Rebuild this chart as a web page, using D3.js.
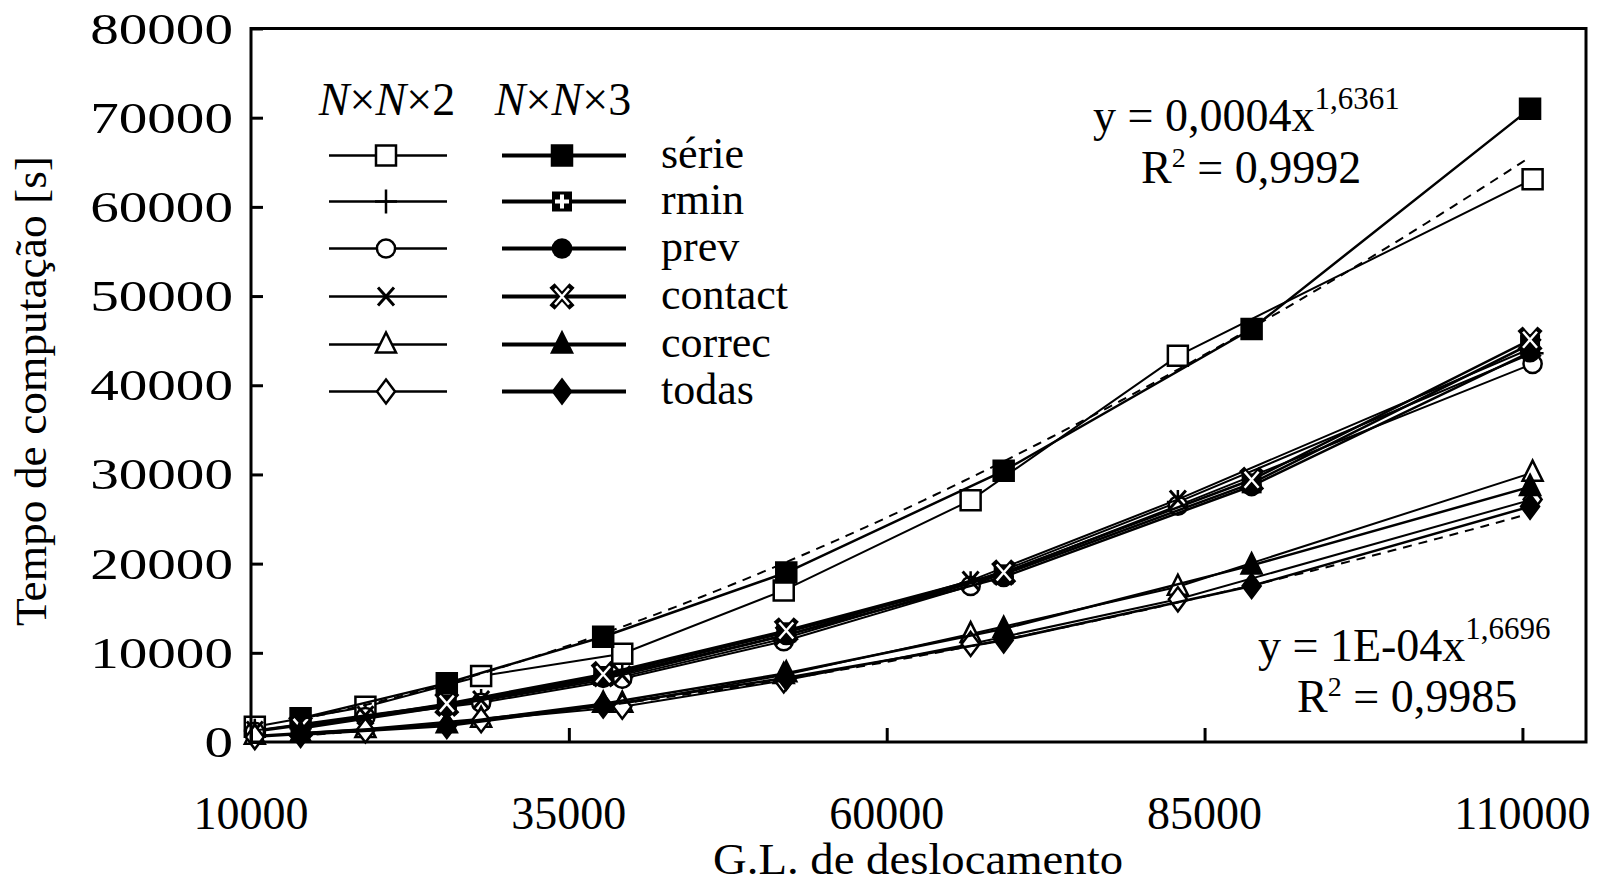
<!DOCTYPE html>
<html>
<head>
<meta charset="utf-8">
<script src="https://cdn.jsdelivr.net/npm/d3@7"></script>
<style>
  html, body { margin: 0; padding: 0; background: #fff; }
  svg text { font-family: "Liberation Serif", "Times New Roman", serif; fill: #000; }
</style>
</head>
<body>
<div id="chart"></div>
<script>
// x positions (G.L. de deslocamento) for the two mesh families
var xN2 = [10300, 19000, 28100, 39200, 51900, 66600, 82900, 110800];
var xN3 = [13900, 25400, 37700, 52100, 69200, 88700, 110600];

// computation time [s], N x N x 2
var serie2   = [1700, 3950, 7400, 9900, 17000, 27100, 43300, 63100];
var rmin2    = [1250, 2900, 4600, 7300, 11600, 17800, 26900, 43600];
var prev2    = [1150, 2800, 4400, 7100, 11300, 17500, 26500, 42400];
var contact2 = [1300, 3000, 4700, 7500, 11900, 18100, 27200, 44200];
var correc2  = [700, 1450, 2600, 4300, 7500, 12100, 17400, 30200];
var todas2   = [550, 1300, 2450, 3950, 6900, 11000, 16000, 27200];

// computation time [s], N x N x 3
var serie3   = [2650, 6600, 11800, 19000, 30400, 46300, 71000];
var rmin3    = [1600, 4200, 7400, 12300, 18800, 29000, 44600];
var prev3    = [1500, 4000, 7200, 12000, 18500, 28700, 43700];
var contact3 = [1700, 4300, 7600, 12500, 19000, 29400, 45100];
var correc3  = [950, 2000, 4300, 7700, 12700, 19800, 28600];
var todas3   = [800, 1800, 4100, 7200, 11400, 17500, 26400];

var seriesNames = ["série", "rmin", "prev", "contact", "correc", "todas"];
var yTicks = [0, 10000, 20000, 30000, 40000, 50000, 60000, 70000, 80000];
var xTicks = [10000, 35000, 60000, 85000, 110000];

var W = 1604, H = 883;
var svg = d3.select("#chart").append("svg")
  .attr("width", W).attr("height", H);

var x = d3.scaleLinear().domain([10000, 115000]).range([251, 1586]);
var y = d3.scaleLinear().domain([0, 80000]).range([742, 28.5]);

// marker shapes
function markerPath(kind) {
  if (kind == "square") return "M-10,-10H10V10H-10Z";
  if (kind == "circle") return d3.symbol(d3.symbolCircle, 260)();
  if (kind == "triangle") return "M0,-12L10,8H-10Z";
  if (kind == "diamond") return "M0,-12L9,0L0,12L-9,0Z";
  if (kind == "plus") return "M-11,0H11M0,-12V12";
  if (kind == "x") return "M-8,-9L8,9M-8,9L8,-9";
}

function drawMarker(g, kind, filled) {
  if (kind == "plus" && !filled) {
    g.append("path").attr("d", markerPath("plus"))
      .attr("stroke", "#000").attr("stroke-width", 2.5).attr("fill", "none");
  } else if (kind == "plus") {
    g.append("path").attr("d", "M-10,-10H10V10H-10Z").attr("fill", "#000");
    g.append("path").attr("d", "M-7,0H7M0,-7V7")
      .attr("stroke", "#fff").attr("stroke-width", 4);
  } else if (kind == "x" && !filled) {
    g.append("path").attr("d", markerPath("x"))
      .attr("stroke", "#000").attr("stroke-width", 3).attr("fill", "none");
  } else if (kind == "x") {
    g.append("path").attr("d", "M-10,-11L10,11M-10,11L10,-11")
      .attr("stroke", "#000").attr("stroke-width", 7);
    g.append("path").attr("d", "M-7,-8L7,8M-7,8L7,-8")
      .attr("stroke", "#fff").attr("stroke-width", 2.5);
  } else {
    g.append("path").attr("d", markerPath(kind))
      .attr("fill", filled ? "#000" : "#fff")
      .attr("stroke", "#000").attr("stroke-width", 2.5);
  }
}

var kinds = ["square", "plus", "circle", "x", "triangle", "diamond"];
var group2 = [serie2, rmin2, prev2, contact2, correc2, todas2];
var group3 = [serie3, rmin3, prev3, contact3, correc3, todas3];

var line = d3.line().x(function(d) { return x(d[0]); }).y(function(d) { return y(d[1]); });

var plot = svg.append("g");

function drawSeries(xs, ys, kind, filled, lw) {
  var pts = xs.map(function(v, i) { return [v, ys[i]]; });
  plot.append("path").datum(pts)
    .attr("d", line).attr("fill", "none")
    .attr("stroke", "#000").attr("stroke-width", lw);
  pts.forEach(function(p) {
    var g = plot.append("g").attr("transform", "translate(" + x(p[0]) + "," + y(p[1]) + ")");
    drawMarker(g, kind, filled);
  });
}

group2.forEach(function(ys, i) { drawSeries(xN2, ys, kinds[i], false, 2); });
group3.forEach(function(ys, i) { drawSeries(xN3, ys, kinds[i], true, 2.5); });

// power trendlines fitted (log-log least squares) to the N x N x 3 series
function powerFit(xs, ys) {
  var lx = xs.map(Math.log), ly = ys.map(Math.log);
  var mx = d3.mean(lx), my = d3.mean(ly);
  var b = d3.sum(lx, function(v, i) { return (v - mx) * (ly[i] - my); }) /
          d3.sum(lx, function(v) { return (v - mx) * (v - mx); });
  var a = Math.exp(my - b * mx);
  return function(v) { return a * Math.pow(v, b); };
}
[serie3, todas3].forEach(function(ys) {
  var f = powerFit(xN3, ys);
  var xs = d3.range(xN3[0], xN3[xN3.length - 1], 500).concat([xN3[xN3.length - 1]]);
  plot.append("path").datum(xs.map(function(v) { return [v, f(v)]; }))
    .attr("d", line).attr("fill", "none")
    .attr("stroke", "#000").attr("stroke-width", 2)
    .attr("stroke-dasharray", "9,7");
});

// frame and inward ticks
svg.append("rect")
  .attr("x", x(10000)).attr("y", y(80000))
  .attr("width", x(115000) - x(10000)).attr("height", y(0) - y(80000))
  .attr("fill", "none").attr("stroke", "#000").attr("stroke-width", 3);

var yAxis = d3.axisRight(y).tickValues(yTicks).tickSize(12).tickFormat("");
svg.append("g").attr("transform", "translate(" + x(10000) + ",0)").call(yAxis)
  .call(function(g) { g.select(".domain").remove(); })
  .selectAll("line").attr("stroke-width", 3);

var xAxis = d3.axisTop(x).tickValues(xTicks).tickSize(14).tickFormat("");
svg.append("g").attr("transform", "translate(0," + y(0) + ")").call(xAxis)
  .call(function(g) { g.select(".domain").remove(); })
  .selectAll("line").attr("stroke-width", 3);

// tick labels
svg.append("g").selectAll("text").data(yTicks).enter().append("text")
  .attr("transform", function(d) { return "translate(233," + (y(d) + 15) + ") scale(1.27,1)"; })
  .attr("text-anchor", "end")
  .style("font-size", "45px")
  .text(function(d) { return d; });

svg.append("g").selectAll("text").data(xTicks).enter().append("text")
  .attr("x", function(d) { return x(d); }).attr("y", 829)
  .attr("text-anchor", "middle")
  .style("font-size", "46px")
  .text(function(d) { return d; });

// axis titles
svg.append("text")
  .attr("x", 918).attr("y", 874)
  .attr("text-anchor", "middle").style("font-size", "45px")
  .attr("textLength", 410).attr("lengthAdjust", "spacingAndGlyphs")
  .text("G.L. de deslocamento");

svg.append("text")
  .attr("transform", "translate(46,391) rotate(-90)")
  .attr("text-anchor", "middle").style("font-size", "45px")
  .attr("textLength", 470).attr("lengthAdjust", "spacingAndGlyphs")
  .text("Tempo de computação [s]");

// legend
var legend = svg.append("g");
[["387", "2"], ["563", "3"]].forEach(function(h) {
  var t = legend.append("text").attr("x", +h[0]).attr("y", 115)
    .attr("text-anchor", "middle").style("font-size", "46px");
  t.append("tspan").style("font-style", "italic").text("N");
  t.append("tspan").text("×");
  t.append("tspan").style("font-style", "italic").text("N");
  t.append("tspan").text("×" + h[1]);
});

var rowY = [155.5, 201.5, 248.5, 296.5, 344.5, 391.5];
seriesNames.forEach(function(name, i) {
  legend.append("line").attr("x1", 329).attr("x2", 447)
    .attr("y1", rowY[i]).attr("y2", rowY[i])
    .attr("stroke", "#000").attr("stroke-width", 2.5);
  drawMarker(legend.append("g").attr("transform", "translate(386," + rowY[i] + ")"), kinds[i], false);
  legend.append("line").attr("x1", 502).attr("x2", 626)
    .attr("y1", rowY[i]).attr("y2", rowY[i])
    .attr("stroke", "#000").attr("stroke-width", 4);
  drawMarker(legend.append("g").attr("transform", "translate(562," + rowY[i] + ")"), kinds[i], true);
  legend.append("text").attr("x", 661).attr("y", rowY[i] + 12)
    .style("font-size", "44px").text(name);
});

// trendline equations
function equation(x0, y0, coef, expo, x1, y1, r2) {
  var t = svg.append("text").attr("x", x0).attr("y", y0).style("font-size", "46px");
  t.append("tspan").text("y = " + coef + "x");
  t.append("tspan").attr("dy", -22).style("font-size", "31px").text(expo);
  var r = svg.append("text").attr("x", x1).attr("y", y1).style("font-size", "46px");
  r.append("tspan").text("R");
  r.append("tspan").attr("dy", -16).style("font-size", "28px").text("2");
  r.append("tspan").attr("dy", 16).text(" = " + r2);
}
equation(1093, 131, "0,0004", "1,6361", 1141, 183, "0,9992");
equation(1258, 661, "1E-04", "1,6696", 1297, 712, "0,9985");
</script>
</body>
</html>
